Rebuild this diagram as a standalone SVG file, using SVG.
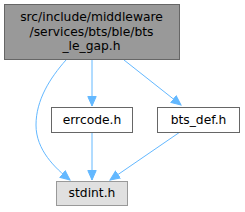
<svg xmlns="http://www.w3.org/2000/svg" width="245" height="212" viewBox="0 0 245 212">
<defs>
<marker id="ah" markerWidth="11" markerHeight="10" refX="10" refY="5" orient="auto" markerUnits="userSpaceOnUse">
<path d="M0.5,0.8 L10,5 L0.5,9.2 Z" fill="#63b8ff" stroke="#63b8ff"/>
</marker>
</defs>
<style>
.t{font-family:"DejaVu Sans",sans-serif;font-size:12.3px;fill:#000;text-anchor:middle}
.e{fill:none;stroke:#63b8ff;stroke-width:1;marker-end:url(#ah)}
</style>
<rect width="245" height="212" fill="#fff"/>
<g id="edges">
<path class="e" d="M66,60 C50,78 36,100 36,125 C36,150 55,168 70,180"/>
<path class="e" d="M92,60 L92,106"/>
<path class="e" d="M124,60 L181,105"/>
<path class="e" d="M92,132 L92,180"/>
<path class="e" d="M180,132 L110,180"/>
</g>
<g id="n_top">
<rect x="4.5" y="4.5" width="175" height="55" fill="#999999" stroke="#666666"/>
<text class="t" x="91.5" y="21">src/include/middleware</text>
<text class="t" x="91.5" y="35.5">/services/bts/ble/bts</text>
<text class="t" x="91.5" y="50">_le_gap.h</text>
</g>
<g id="n_errcode">
<rect x="51.5" y="107.5" width="81" height="25" fill="#fff" stroke="#666666"/>
<text class="t" x="92" y="124">errcode.h</text>
</g>
<g id="n_btsdef">
<rect x="157.5" y="107.5" width="82" height="25" fill="#fff" stroke="#666666"/>
<text class="t" x="198.5" y="124">bts_def.h</text>
</g>
<g id="n_stdint">
<rect x="56.5" y="181.5" width="71" height="24" fill="#e0e0e0" stroke="#999999"/>
<text class="t" x="92" y="197">stdint.h</text>
</g>
</svg>
